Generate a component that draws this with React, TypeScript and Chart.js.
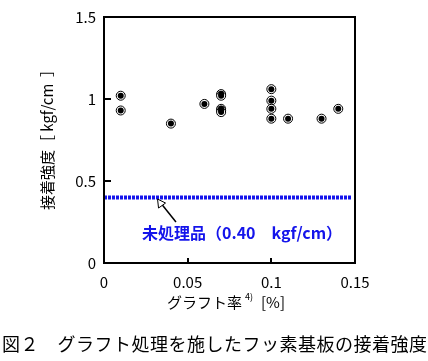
import React, { useEffect, useRef } from "react";
import { Chart, registerables } from "chart.js";

Chart.register(...registerables);

const graftRates = [0.01, 0.01, 0.04, 0.06, 0.07, 0.07, 0.07, 0.07, 0.07, 0.1, 0.1, 0.1, 0.1, 0.11, 0.13, 0.14];
const strengths = [1.02, 0.93, 0.85, 0.97, 1.03, 1.02, 0.94, 0.93, 0.92, 1.06, 0.99, 0.94, 0.88, 0.88, 0.88, 0.94];
const untreatedX = [0, 0.148];
const untreatedY = [0.4, 0.4];
const yTicks = [0, 0.5, 1, 1.5];
const xTicks = [0, 0.05, 0.1, 0.15];
const untreatedLabel = "未処理品（0.40　kgf/cm）";
const yTitle = "接着強度［ kgf/cm  ］";
const xTitleMain = "グラフト率";
const xTitleSup = "4)";
const xTitleUnit = "[%]";
const caption = "図２　グラフト処理を施したフッ素基板の接着強度";

const FONT = "'Noto Sans CJK JP', sans-serif";

const decorPlugin = {
  id: "decor",
  afterDraw(chart: any) {
    const { ctx, chartArea, scales } = chart;
    const xs = scales.x;
    const ys = scales.y;
    ctx.save();
    ctx.strokeStyle = "#000";
    ctx.lineWidth = 2;
    ctx.strokeRect(chartArea.left, chartArea.top, chartArea.right - chartArea.left, chartArea.bottom - chartArea.top);
    ctx.beginPath();
    for (const v of yTicks.slice(1)) {
      const y = Math.round(ys.getPixelForValue(v));
      ctx.moveTo(chartArea.left, y);
      ctx.lineTo(chartArea.left + 7, y);
    }
    for (const v of xTicks.slice(1, 3)) {
      const x = Math.round(xs.getPixelForValue(v));
      ctx.moveTo(x, chartArea.bottom);
      ctx.lineTo(x, chartArea.bottom - 5);
    }
    ctx.stroke();

    const tipX = xs.getPixelForValue(0.032);
    const tipY = ys.getPixelForValue(0.39);
    const tailX = xs.getPixelForValue(0.043);
    const tailY = ys.getPixelForValue(0.25);
    ctx.lineWidth = 1.5;
    ctx.beginPath();
    ctx.moveTo(tailX, tailY);
    ctx.lineTo(tipX + 4, tipY + 5);
    ctx.stroke();
    ctx.lineWidth = 1;
    ctx.fillStyle = "#fff";
    ctx.beginPath();
    ctx.moveTo(tipX, tipY);
    ctx.lineTo(tipX + 1, tipY + 9);
    ctx.lineTo(tipX + 8, tipY + 4);
    ctx.closePath();
    ctx.fill();
    ctx.stroke();

    ctx.fillStyle = "rgb(20,20,235)";
    ctx.font = `bold 16px ${FONT}`;
    ctx.textBaseline = "middle";
    ctx.textAlign = "left";
    ctx.fillText(untreatedLabel, 142, 233);

    ctx.fillStyle = "#000";
    ctx.font = `15px ${FONT}`;
    ctx.save();
    ctx.translate(47, 136);
    ctx.rotate(-Math.PI / 2);
    ctx.textAlign = "center";
    ctx.fillText(yTitle, 0, 0);
    ctx.restore();

    ctx.textAlign = "left";
    ctx.font = `15px ${FONT}`;
    ctx.fillText(xTitleMain, 167, 302);
    ctx.font = `9px ${FONT}`;
    ctx.fillText(xTitleSup, 245, 297);
    ctx.font = `15px ${FONT}`;
    ctx.fillText(xTitleUnit, 261, 302);

    ctx.font = `18px ${FONT}`;
    (ctx as any).letterSpacing = "0.5px";
    ctx.fillText(caption, 2, 344);
    ctx.restore();
  },
};

export default function App() {
  const ref = useRef<HTMLCanvasElement>(null);
  useEffect(() => {
    const pts = graftRates.map((x, i) => ({ x, y: strengths[i] }));
    const chart = new Chart(ref.current!, {
      type: "scatter",
      data: {
        datasets: [
          {
            type: "line",
            data: untreatedX.map((x, i) => ({ x, y: untreatedY[i] })),
            borderColor: "rgb(20,20,235)",
            borderWidth: 4,
            borderDash: [3, 1],
            pointRadius: 0,
            showLine: true,
            order: 3,
          } as any,
          {
            data: pts,
            pointRadius: 4.5,
            pointBorderColor: "#000",
            pointBackgroundColor: "#fff",
            pointBorderWidth: 1,
            order: 2,
          },
          {
            data: pts,
            pointRadius: 3,
            pointBorderWidth: 0,
            pointBackgroundColor: "#000",
            pointBorderColor: "#000",
            order: 1,
          },
        ],
      },
      plugins: [decorPlugin],
      options: {
        animation: false,
        responsive: false,
        maintainAspectRatio: false,
        layout: { padding: { left: 0, right: 73, top: 12, bottom: 0 } },
        plugins: { legend: { display: false }, tooltip: { enabled: false } },
        scales: {
          x: {
            type: "linear",
            min: 0,
            max: 0.15,
            afterBuildTicks: (s: any) => {
              s.ticks = xTicks.map((v) => ({ value: v }));
            },
            afterFit: (s: any) => {
              s.height = 98;
            },
            grid: { display: false, drawTicks: false },
            border: { display: false },
            ticks: {
              padding: 10,
              color: "#000",
              font: { family: FONT, size: 15 },
              callback: (v: any) => String(v),
              maxRotation: 0,
            },
          },
          y: {
            type: "linear",
            min: 0,
            max: 1.5,
            afterBuildTicks: (s: any) => {
              s.ticks = yTicks.map((v) => ({ value: v }));
            },
            afterFit: (s: any) => {
              s.width = 104;
            },
            grid: { display: false, drawTicks: false },
            border: { display: false },
            ticks: {
              padding: 8,
              color: "#000",
              font: { family: FONT, size: 15 },
              callback: (v: any) => String(v),
            },
          },
        },
      },
    });
    return () => chart.destroy();
  }, []);
  return (
    <div style={{ position: "fixed", left: 0, top: 0, width: 428, height: 361, background: "#fff" }}>
      <canvas ref={ref} width={428} height={361} />
    </div>
  );
}
